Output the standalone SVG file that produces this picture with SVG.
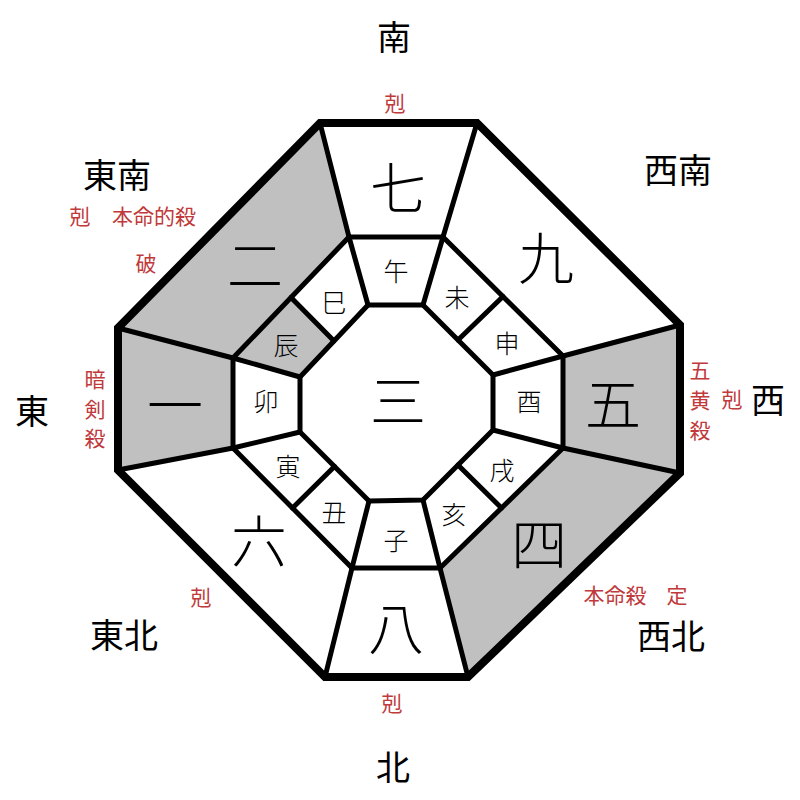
<svg xmlns="http://www.w3.org/2000/svg" width="800" height="800" viewBox="0 0 800 800">
<style>
.dir{font-family:"Noto Sans CJK JP","Noto Sans CJK SC",sans-serif;font-size:34px;fill:#000;text-anchor:middle;dominant-baseline:central}
.red{font-family:"Noto Sans CJK JP","Noto Sans CJK SC",sans-serif;font-size:21px;fill:#c0393b;text-anchor:middle;dominant-baseline:central}
.big{font-family:"Noto Sans CJK JP","Noto Sans CJK SC",sans-serif;font-size:56px;font-weight:300;fill:#000;text-anchor:middle;dominant-baseline:central}
.zod{font-family:"Noto Sans CJK JP","Noto Sans CJK SC",sans-serif;font-size:25px;font-weight:300;fill:#000;text-anchor:middle;dominant-baseline:central}
.gray{fill:#c0c0c0;stroke:none}
.ln{stroke:#000;stroke-width:5;fill:none;stroke-linejoin:round;stroke-linecap:round}
.outer{stroke:#000;stroke-width:8;fill:none;stroke-linejoin:miter}
</style>
<rect x="0" y="0" width="800" height="800" fill="#fff"/>

<g id="fills">
<polygon class="gray" points="320,123 349,237 233,358 118,328"/>
<polygon class="gray" points="118,328 233,358 233,448 118,470"/>
<polygon class="gray" points="680,325 563,356 563,448 680,473"/>
<polygon class="gray" points="680,473 563,448 440,568 468,677"/>
<polygon class="gray" points="291,297.5 233,358 300,377 334,341"/>
</g>

<g id="connectors">
<polygon class="ln" points="349,237 443,237 563,356 563,448 440,568 352,568 233,448 233,358"/>
<polygon class="ln" points="368,305 423,305 493,375 493,430 423,500 369,501 300,432 300,377"/>
<line class="ln" x1="320" y1="123" x2="349" y2="237"/>
<line class="ln" x1="477" y1="123" x2="443" y2="237"/>
<line class="ln" x1="680" y1="325" x2="563" y2="356"/>
<line class="ln" x1="680" y1="473" x2="563" y2="448"/>
<line class="ln" x1="468" y1="677" x2="440" y2="568"/>
<line class="ln" x1="325" y1="677" x2="352" y2="568"/>
<line class="ln" x1="118" y1="470" x2="233" y2="448"/>
<line class="ln" x1="118" y1="328" x2="233" y2="358"/>
<line class="ln" x1="349" y1="237" x2="368" y2="305"/>
<line class="ln" x1="443" y1="237" x2="423" y2="305"/>
<line class="ln" x1="563" y1="356" x2="493" y2="375"/>
<line class="ln" x1="563" y1="448" x2="493" y2="430"/>
<line class="ln" x1="440" y1="568" x2="423" y2="500"/>
<line class="ln" x1="352" y1="568" x2="369" y2="501"/>
<line class="ln" x1="233" y1="448" x2="300" y2="432"/>
<line class="ln" x1="233" y1="358" x2="300" y2="377"/>
<line class="ln" x1="291" y1="297.5" x2="334" y2="341"/>
<line class="ln" x1="503" y1="296.5" x2="458" y2="340"/>
<line class="ln" x1="501.5" y1="508" x2="458" y2="465"/>
<line class="ln" x1="292.5" y1="508" x2="334.5" y2="466.5"/>
<polygon class="outer" points="320,123 477,123 680,325 680,473 468,677 325,677 118,470 118,328"/>
</g>

<g id="center"><text class="big" x="398" y="397">三</text></g>
<g id="s-seven"><text class="big" x="398" y="184">七</text></g>
<g id="s-nine"><text class="big" x="546" y="254">九</text></g>
<g id="s-five"><text class="big" x="613" y="400">五</text></g>
<g id="s-four"><text class="big" x="539" y="540">四</text></g>
<g id="s-eight"><text class="big" x="396" y="624">八</text></g>
<g id="s-six"><text class="big" x="259" y="537">六</text></g>
<g id="s-one"><text class="big" x="175" y="401">一</text></g>
<g id="s-two"><text class="big" x="255" y="261">二</text></g>

<g id="z-uma"><text class="zod" x="396" y="270">午</text></g>
<g id="z-hitsuji"><text class="zod" x="457" y="296">未</text></g>
<g id="z-saru"><text class="zod" x="507" y="342">申</text></g>
<g id="z-tori"><text class="zod" x="529" y="400">酉</text></g>
<g id="z-inu"><text class="zod" x="502" y="469">戌</text></g>
<g id="z-i"><text class="zod" x="454" y="513">亥</text></g>
<g id="z-ne"><text class="zod" x="396" y="539">子</text></g>
<g id="z-ushi"><text class="zod" x="334" y="511">丑</text></g>
<g id="z-tora"><text class="zod" x="288" y="465">寅</text></g>
<g id="z-u"><text class="zod" x="266" y="400">卯</text></g>
<g id="z-tatsu"><text class="zod" x="286" y="344">辰</text></g>
<g id="z-mi"><text class="zod" x="334" y="301">巳</text></g>

<g id="dir-s"><text class="dir" x="394" y="35">南</text><text class="red" x="395" y="102">剋</text></g>
<g id="dir-n"><text class="dir" x="393" y="765">北</text><text class="red" x="392" y="702">剋</text></g>
<g id="dir-e"><text class="dir" x="32" y="409">東</text>
<text class="red"><tspan x="95" y="378">暗</tspan><tspan x="95" y="408">剣</tspan><tspan x="95" y="437">殺</tspan></text></g>
<g id="dir-w"><text class="dir" x="768" y="398">西</text>
<text class="red"><tspan x="700" y="369">五</tspan><tspan x="700" y="399">黄</tspan><tspan x="700" y="429">殺</tspan></text>
<text class="red" x="732" y="398">剋</text></g>
<g id="dir-se"><text class="dir" x="117" y="173">東南</text>
<text class="red" x="80" y="215">剋</text><text class="red" x="154" y="215">本命的殺</text>
<text class="red" x="146" y="262">破</text></g>
<g id="dir-sw"><text class="dir" x="678" y="168">西南</text></g>
<g id="dir-ne"><text class="dir" x="124" y="633">東北</text><text class="red" x="201" y="596">剋</text></g>
<g id="dir-nw"><text class="dir" x="671" y="634">西北</text>
<text class="red" x="615" y="594">本命殺</text><text class="red" x="677" y="594">定</text></g>
</svg>
